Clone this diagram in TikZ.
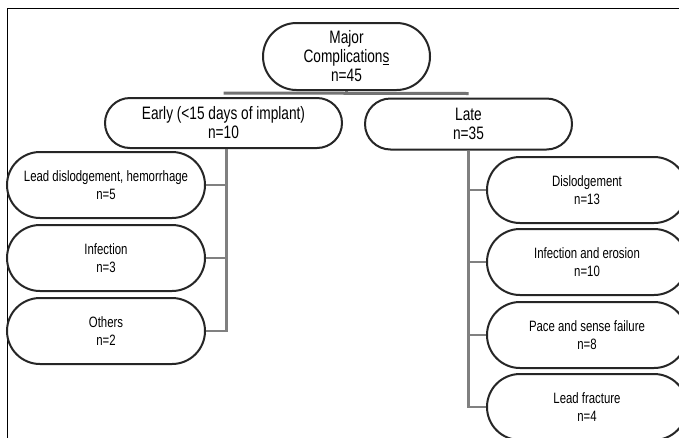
\documentclass[tikz,border=0pt]{standalone}
\usepackage{fontspec}
\setmainfont[FakeStretch=0.76]{Liberation Sans}
\usetikzlibrary{shapes.misc}

\tikzset{
  pill/.style={rounded rectangle, draw=black!85, line width=2pt, fill=white, align=center, inner sep=0pt},
  topbox/.style={pill, font=\fontsize{18}{19}\selectfont},
  leafbox/.style={pill, minimum width=198pt, minimum height=66pt, font=\fontsize{15}{18}\selectfont},
  link/.style={draw=black!50, line width=2.4pt},
  bar/.style={draw=black!55, line width=3pt},
}

\begin{document}
\begin{tikzpicture}[x=1pt,y=-1pt]
  \clip (0,0) rectangle (679,437);
  \fill[white] (0,0) rectangle (679,437);
  % frame round the chart
  \draw[line width=0.8pt] (7,450) -- (7,8) -- (690,8);

  \node[topbox, minimum width=167pt, minimum height=67pt] (major) at (346.5,56.5) {Major\\Complication\underline{s}\\n=45};
  \node[topbox, minimum width=237pt, minimum height=50pt] (early) at (223.5,123) {Early (<15 days of implant)\\n=10};
  \node[topbox, minimum width=207pt, minimum height=51pt] (late) at (468.5,124) {Late\\n=35};

  % early branch
  \node[leafbox] (leaddis) at (106,185) {Lead dislodgement, hemorrhage\\n=5};
  \node[leafbox] (infect) at (106,258) {Infection\\n=3};
  \node[leafbox] (others) at (106,331) {Others\\n=2};

  % late branch
  \node[leafbox, minimum width=200pt] (dislodge) at (587,190) {Dislodgement\\n=13};
  \node[leafbox, minimum width=200pt] (erosion) at (587,262) {Infection and erosion\\n=10};
  \node[leafbox, minimum width=200pt] (pacesense) at (587,335) {Pace and sense failure\\n=8};
  \node[leafbox, minimum width=200pt] (fracture) at (587,407) {Lead fracture\\n=4};

  \coordinate (barL) at ([yshift=4pt]early.north);
  \coordinate (barR) at ([yshift=4pt]late.north);
  \draw[bar] (barL) -- (barR);
  \draw[bar] (major.south) -- (major.south |- barL);

  \draw[link] ([xshift=3pt]early.south) |- (leaddis.east);
  \draw[link] ([xshift=3pt]early.south) |- (infect.east);
  \draw[link] ([xshift=3pt]early.south) |- (others.east);

  \draw[link] (late.south) |- (dislodge.west);
  \draw[link] (late.south) |- (erosion.west);
  \draw[link] (late.south) |- (pacesense.west);
  \draw[link] (late.south) |- (fracture.west);
\end{tikzpicture}
\end{document}
